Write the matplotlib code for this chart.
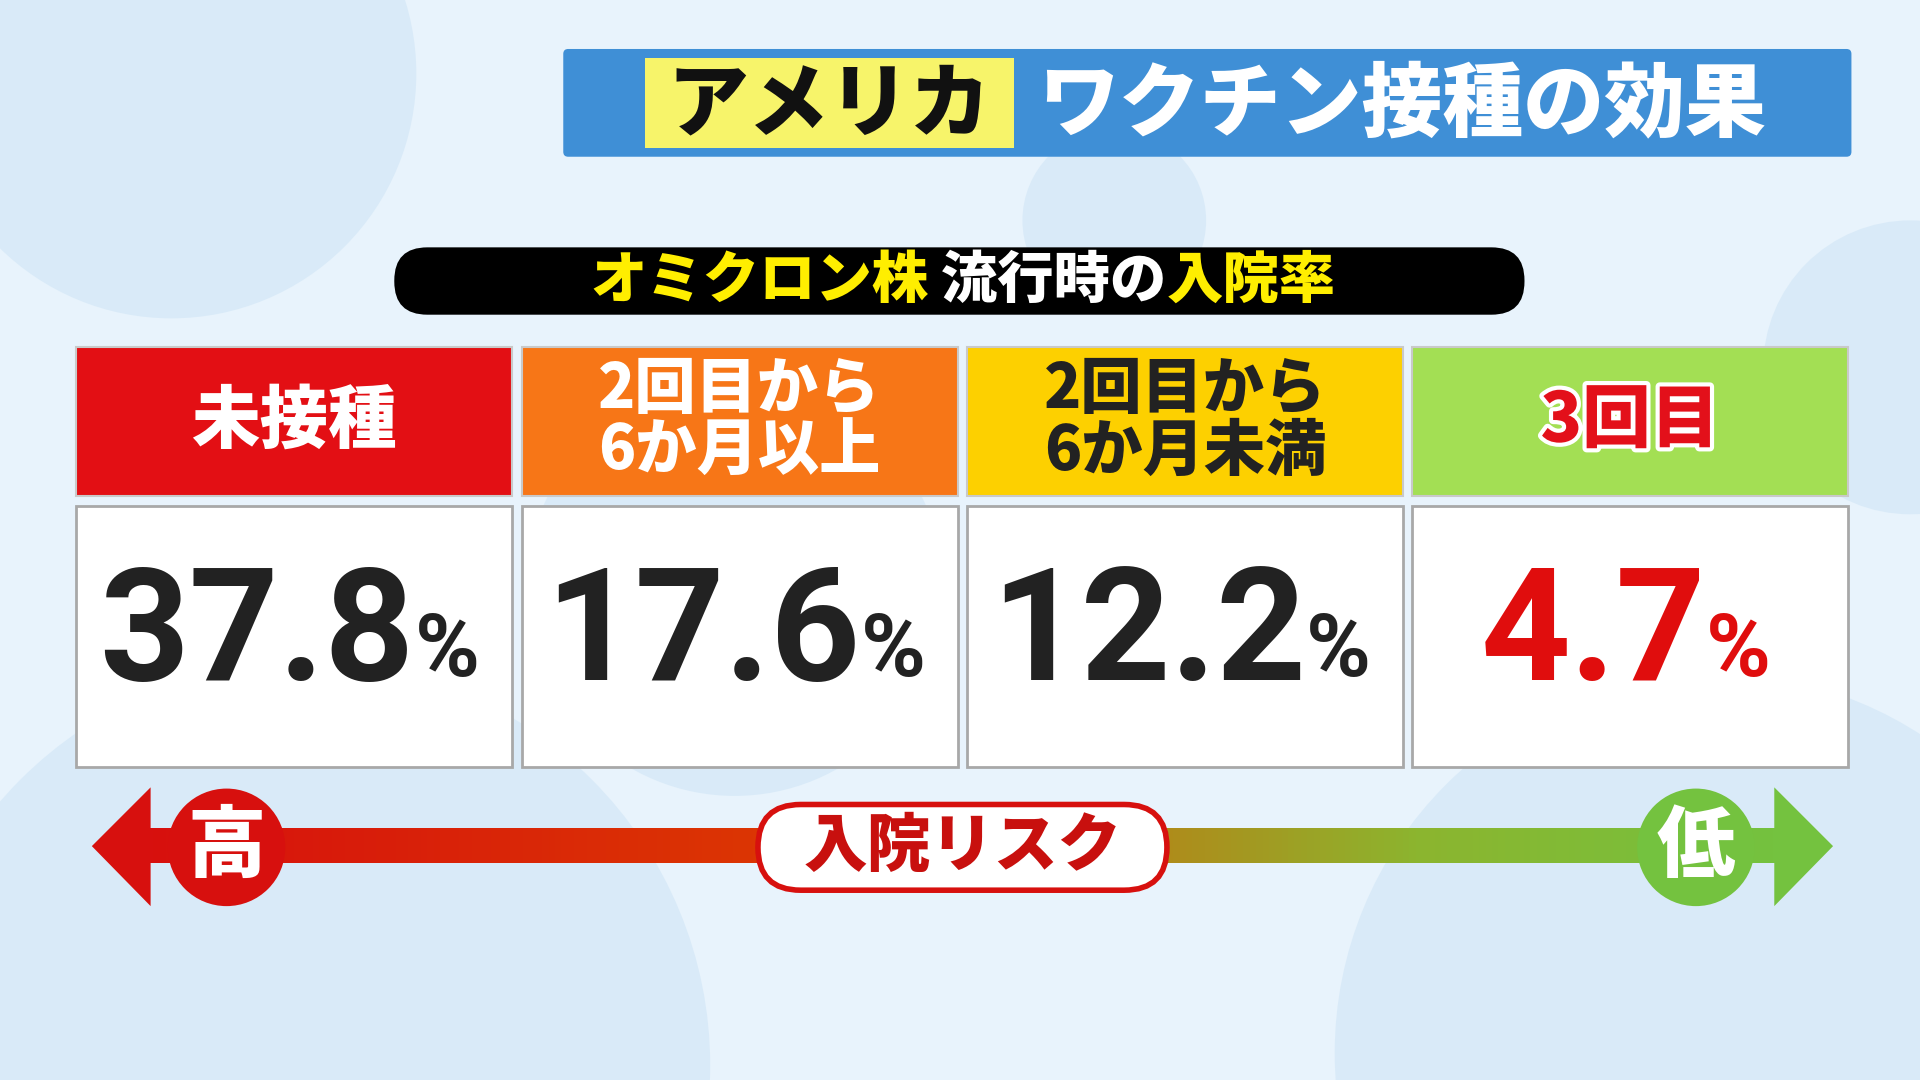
import matplotlib
matplotlib.use("Agg")
import matplotlib.pyplot as plt
import numpy as np
from matplotlib.patches import Rectangle, FancyBboxPatch, Circle, Polygon
from matplotlib.colors import LinearSegmentedColormap
import matplotlib.patheffects as pe

plt.rcParams['font.family'] = ['Noto Sans CJK JP', 'DejaVu Sans']

# data
categories = ["未接種", "2回目から\n6か月以上", "2回目から\n6か月未満", "3回目"]
values = [37.8, 17.6, 12.2, 4.7]
header_colors = ["#e30f14", "#f77617", "#fdd000", "#a3df54"]
header_text_colors = ["white", "white", "#222222", "#e3101a"]
value_colors = ["#222222", "#222222", "#222222", "#e00d0d"]

W, H = 1568, 882
S = 1920 / W * 0.72  # data units -> points


def fs(u):
    return u * S


fig = plt.figure(figsize=(19.2, 10.8), dpi=100)
ax = fig.add_axes([0, 0, 1, 1])
ax.set_xlim(0, W)
ax.set_ylim(H, 0)
ax.axis('off')
ax.add_patch(Rectangle((0, 0), W, H, color="#e8f3fc", zorder=0))

# faint background bubbles
for cx, cy, r in [(140, 60, 200), (250, 870, 330), (1400, 860, 310),
                  (1560, 300, 120), (910, 180, 75), (600, 480, 170)]:
    ax.add_patch(Circle((cx, cy), r, color="#d3e7f7", alpha=0.7, zorder=0.5, lw=0))

# title bar
ax.add_patch(FancyBboxPatch((460, 40), 1052, 88, boxstyle="round,pad=0,rounding_size=4",
                            fc="#3f8fd6", ec="none", zorder=1))
ax.add_patch(Rectangle((527, 47), 301, 74, fc="#f7f46a", zorder=2))
ax.text(677, 86, "アメリカ", fontsize=fs(66), fontweight='heavy', color="#111111",
        ha='center', va='center', zorder=3)
ax.text(1145, 86, "ワクチン接種の効果", fontsize=fs(66), fontweight='heavy', color="white",
        ha='center', va='center', zorder=3)

# subtitle pill
ax.add_patch(FancyBboxPatch((322, 202), 923, 55, boxstyle="round,pad=0,rounding_size=27",
                            fc="black", ec="none", zorder=1))
sub = [("オミクロン株", "#ffee00"), (" 流行時の", "white"), ("入院率", "#ffee00")]
t = ax.text(482, 230, sub[0][0], fontsize=fs(46), fontweight='heavy', color=sub[0][1],
            ha='left', va='center', zorder=3)
for s, c in sub[1:]:
    t = ax.annotate(s, xycoords=t, xy=(1, 0.5), va='center', ha='left',
                    fontsize=fs(46), fontweight='heavy', color=c, zorder=3)

# columns
x0s = [62, 426, 790, 1153]
cw = 356
for i, (cat, val) in enumerate(zip(categories, values)):
    x = x0s[i]
    ax.add_patch(Rectangle((x, 283), cw, 122, fc=header_colors[i], ec="#c9c9c9", lw=1.5, zorder=2))
    lines = cat.split("\n")
    size = 50 if len(lines) > 1 else 56
    txt = ax.text(x + cw / 2, 344, cat, fontsize=fs(size), fontweight='heavy',
                  color=header_text_colors[i], ha='center', va='center',
                  linespacing=1.0, zorder=3)
    if i == 3:
        txt.set_path_effects([pe.withStroke(linewidth=6, foreground="white")])
    ax.add_patch(Rectangle((x, 413), cw, 213, fc="white", ec="#a8a8a8", lw=2, zorder=2))
    num = ax.text(x + cw / 2 - 30, 520, f"{val:.1f}", fontsize=fs(128), fontweight='bold',
                  family='Roboto', color=value_colors[i], ha='center', va='center', zorder=3)
    ax.annotate("%", xycoords=num, xy=(1, 0.12), ha='left', va='bottom',
                fontsize=fs(72), family='Roboto', fontweight='bold',
                color=value_colors[i], zorder=3)

# risk arrow with gradient
cmap = LinearSegmentedColormap.from_list("risk", [(0, "#d7100e"), (0.42, "#dc3a02"),
                                                   (0.62, "#b08a1a"), (0.78, "#8cb52f"),
                                                   (1, "#74c23f")])
grad = np.linspace(0, 1, 512).reshape(1, -1)
ax.imshow(grad, cmap=cmap, extent=(120, 1452, 705, 677), aspect='auto', zorder=2)
ax.set_xlim(0, W)
ax.set_ylim(H, 0)
ax.add_patch(Polygon([(75, 691), (123, 643), (123, 740)], closed=True, fc="#d7100e", zorder=2))
ax.add_patch(Polygon([(1497, 691), (1449, 643), (1449, 740)], closed=True, fc="#74c23f", zorder=2))
ax.add_patch(Circle((185, 692), 48, fc="#d7100e", zorder=3))
ax.text(185, 692, "高", fontsize=fs(64), fontweight='heavy', color="white",
        ha='center', va='center', zorder=4)
ax.add_patch(Circle((1385, 692), 48, fc="#74c23f", zorder=3))
ax.text(1385, 692, "低", fontsize=fs(64), fontweight='heavy', color="white",
        ha='center', va='center', zorder=4)
ax.add_patch(FancyBboxPatch((619, 657), 334, 70, boxstyle="round,pad=0,rounding_size=35",
                            fc="white", ec="#d7100e", lw=4, zorder=3))
ax.text(786, 692, "入院リスク", fontsize=fs(52), fontweight='heavy', color="#c8100e",
        ha='center', va='center', zorder=4)

fig.savefig("out.png", dpi=100)
